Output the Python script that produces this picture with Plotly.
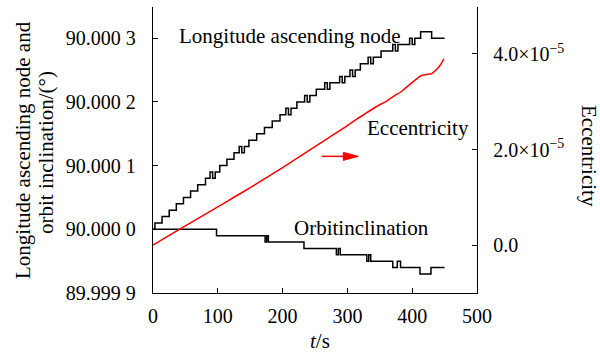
import plotly.graph_objects as go

# ---------------- data ----------------
# Longitude of ascending node: step times (s) and level offsets (units of 1e-5 deg above 90)
lon_t = [0, 3, 14, 25, 36, 47, 58, 69, 81, 88, 92, 96, 103, 114, 125, 133, 137, 141, 148,
         160, 172, 184, 196, 205, 209, 213, 222, 234, 238, 242, 252, 265, 269, 273,
         288, 292, 296, 304, 308, 312, 320, 332, 336, 340, 352, 370, 374, 378,
         396, 400, 404, 413, 430, 450]
lon_off = [0, 1, 2, 3, 4, 5, 6, 7, 8, 9, 8, 9, 10, 11, 12, 13, 12, 13, 14,
           15, 16, 17, 18, 19, 18, 19, 20, 21, 20, 21, 22, 23, 22, 23,
           24, 23, 24, 25, 24, 25, 26, 27, 26, 27, 28, 29, 28, 29,
           30, 29, 30, 31, 30, 30]

# Orbit inclination: step times (s) and level offsets (units of 1e-5 deg relative to 90)
inc_t = [0, 98, 173, 175.5, 178, 233, 283, 286, 289, 330, 333, 336, 370, 377, 382, 412, 429, 450]
inc_off = [0, -1, -2, -1, -2, -3, -4, -3, -4, -5, -4, -5, -6, -5, -6, -7, -6, -6]

# Eccentricity (units of 1e-5)
ecc_t = [0, 25, 50, 75, 100, 125, 150, 175, 200, 225, 250, 275, 300, 315, 330, 345, 360,
         372, 384, 396, 406, 414, 422, 430, 438, 444, 449]
ecc_v = [0.0, 0.2, 0.4, 0.6, 0.8, 1.0, 1.2, 1.41, 1.62, 1.84, 2.06, 2.28, 2.5, 2.64, 2.77,
         2.9, 3.01, 3.12, 3.22, 3.36, 3.47, 3.55, 3.57, 3.59, 3.68, 3.78, 3.9]

x_ticks = [0, 100, 200, 300, 400, 500]
y_ticks = [89.9999, 90.0, 90.0001, 90.0002, 90.0003]
y_ticktext = ["89.999 9", "90.000 0", "90.000 1", "90.000 2", "90.000 3"]
y2_ticks = [0.0, 2e-5, 4e-5]
y2_ticktext = ["0.0", "2.0×10<sup>−5</sup>", "4.0×10<sup>−5</sup>"]

FONT = "Liberation Serif"

lon_y = [90 + v * 1e-5 for v in lon_off]
inc_y = [90 + v * 1e-5 for v in inc_off]
ecc_y = [v * 1e-5 for v in ecc_v]

fig = go.Figure()
fig.add_trace(go.Scatter(x=lon_t, y=lon_y, mode="lines",
                         line=dict(color="black", width=1.5, shape="hv"), showlegend=False))
fig.add_trace(go.Scatter(x=inc_t, y=inc_y, mode="lines",
                         line=dict(color="black", width=1.5, shape="hv"), showlegend=False))
fig.add_trace(go.Scatter(x=ecc_t, y=ecc_y, mode="lines", yaxis="y2",
                         line=dict(color="red", width=1.5, shape="spline", smoothing=0.8),
                         showlegend=False))

axis_common = dict(showline=True, linecolor="black", linewidth=1.3, ticks="inside",
                   ticklen=5, tickwidth=1.3, tickcolor="black", showgrid=False,
                   zeroline=False, tickfont=dict(family=FONT, size=20, color="black"))

fig.update_layout(
    width=600, height=353,
    margin=dict(l=153, r=123, t=7, b=60),
    paper_bgcolor="white", plot_bgcolor="white",
    font=dict(family=FONT, size=20, color="black"),
    xaxis=dict(range=[0, 500], tickvals=x_ticks, ticklabelstandoff=5, **axis_common),
    yaxis=dict(range=[89.9999, 90.000349], tickvals=y_ticks, ticktext=y_ticktext,
               ticklabelstandoff=12, **axis_common),
    yaxis2=dict(range=[-1.005e-5, 4.984e-5], overlaying="y", side="right",
                tickvals=y2_ticks, ticktext=y2_ticktext, ticklabelstandoff=11, **axis_common),
)

ann_font = dict(family=FONT, size=21, color="black")
W, H = 600, 353
L, R, T, B = 153, 123, 7, 60
pw, ph = W - L - R, H - T - B


def px_to_paper(px, py):
    return (px - L) / pw, 1 - (py - T) / ph


annots = [
    dict(text="Longitude ascending node", px=290, py=36, angle=0),
    dict(text="Eccentricity", px=417.5, py=128, angle=0),
    dict(text="Orbitinclination", px=361.5, py=228, angle=0),
    dict(text="Longitude ascending node and", px=23, py=150, angle=-90),
    dict(text="orbit inclination/(°)", px=46, py=152, angle=-90),
    dict(text="Eccentricity", px=589, py=156, angle=90),
    dict(text="<i>t</i>/s", px=320, py=341, angle=0),
]
for a in annots:
    ax_, ay_ = px_to_paper(a["px"], a["py"])
    fig.add_annotation(text=a["text"], x=ax_, y=ay_, xref="paper", yref="paper",
                       showarrow=False, font=ann_font, textangle=a["angle"],
                       xanchor="center", yanchor="middle")

# red arrow pointing to the right axis
arrow_y = 90.0001145
fig.add_shape(type="line", x0=260.3, x1=300, y0=arrow_y, y1=arrow_y, xref="x", yref="y",
              line=dict(color="red", width=1.5))
fig.add_shape(type="path",
              path=f"M 293.7,{arrow_y + 0.0000063} L 316.8,{arrow_y} L 293.7,{arrow_y - 0.0000063} Z",
              xref="x", yref="y", fillcolor="red", line=dict(color="red", width=1))

fig.write_html("out.html")
